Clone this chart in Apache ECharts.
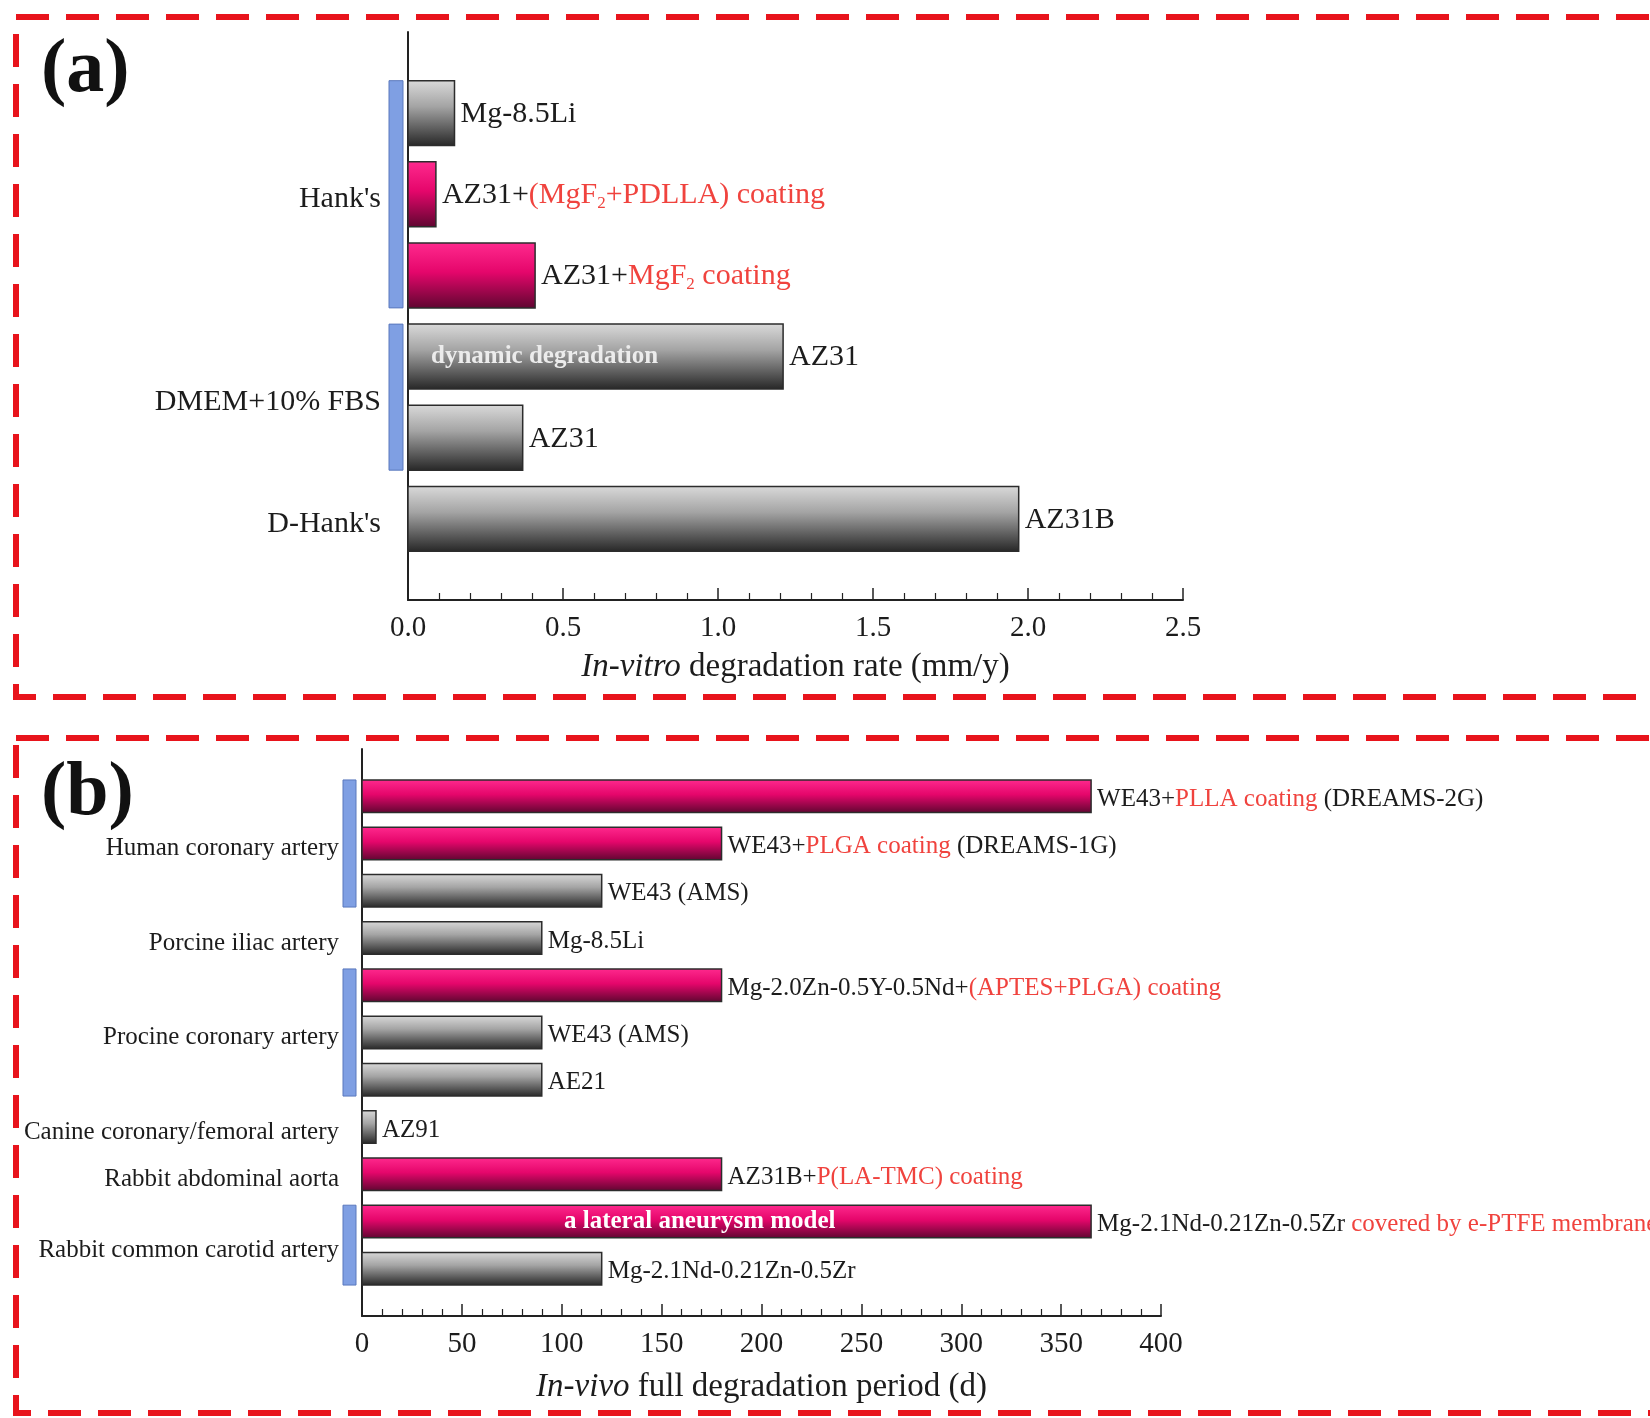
<!DOCTYPE html>
<html>
<head>
<meta charset="utf-8">
<script src="https://cdn.jsdelivr.net/npm/echarts@6/dist/echarts.min.js"></script>
<style>
  html, body { margin: 0; padding: 0; background: #fff; }
  #chart { width: 1650px; height: 1418px; }
</style>
</head>
<body>
<div id="chart"></div>
<script>
// ---------- (a) in-vitro degradation rate (mm/y) ----------
// label segments: k = black text, r = red (coating) text, s = red subscript
const vitroLabels = [
  [['Mg-8.5Li', 'k']],
  [['AZ31+', 'k'], ['(MgF', 'r'], ['2', 's'], ['+PDLLA) coating', 'r']],
  [['AZ31+', 'k'], ['MgF', 'r'], ['2', 's'], [' coating', 'r']],
  [['AZ31', 'k']],
  [['AZ31', 'k']],
  [['AZ31B', 'k']]
];
const vitroRates = [0.15, 0.09, 0.41, 1.21, 0.37, 1.97];
const vitroCoated = [false, true, true, false, false, false];
const vitroNotes = ['', '', '', 'dynamic degradation', '', ''];
const vitroMedia = ["Hank's", 'DMEM+10% FBS', "D-Hank's"];
const vitroMediaRows = [[1, 3], [4, 5], [6, 6]];
const vitroAxisMax = 2.5;
const vitroAxisStep = 0.5;
const vitroAxisName = ['In-vitro', ' degradation rate (mm/y)'];

// ---------- (b) in-vivo full degradation period (d) ----------
const vivoLabels = [
  [['WE43+', 'k'], ['PLLA coating', 'r'], [' (DREAMS-2G)', 'k']],
  [['WE43+', 'k'], ['PLGA coating', 'r'], [' (DREAMS-1G)', 'k']],
  [['WE43 (AMS)', 'k']],
  [['Mg-8.5Li', 'k']],
  [['Mg-2.0Zn-0.5Y-0.5Nd+', 'k'], ['(APTES+PLGA) coating', 'r']],
  [['WE43 (AMS)', 'k']],
  [['AE21', 'k']],
  [['AZ91', 'k']],
  [['AZ31B+', 'k'], ['P(LA-TMC) coating', 'r']],
  [['Mg-2.1Nd-0.21Zn-0.5Zr ', 'k'], ['covered by e-PTFE membrane', 'r']],
  [['Mg-2.1Nd-0.21Zn-0.5Zr', 'k']]
];
const vivoDays = [365, 180, 120, 90, 180, 90, 90, 7, 180, 365, 120];
const vivoCoated = [true, true, false, false, true, false, false, false, true, true, false];
const vivoNotes = ['', '', '', '', '', '', '', '', '', 'a lateral aneurysm model', ''];
const vivoSites = ['Human coronary artery', 'Porcine iliac artery', 'Procine coronary artery',
  'Canine coronary/femoral artery', 'Rabbit abdominal aorta', 'Rabbit common carotid artery'];
const vivoSiteRows = [[1, 3], [4, 4], [5, 7], [8, 8], [9, 9], [10, 11]];
const vivoAxisMax = 400;
const vivoAxisStep = 50;
const vivoAxisName = ['In-vivo', ' full degradation period (d)'];

// ---------- styling ----------
const SERIF = "'Liberation Serif', 'Times New Roman', serif";
const INK = '#1c1c1c';
const RED_TEXT = '#f0433e';
const FRAME_RED = '#e8141c';

function barFill(coated) {
  return coated
    ? new echarts.graphic.LinearGradient(0, 0, 0, 1, [
        { offset: 0, color: '#ff2a8e' },
        { offset: 0.45, color: '#e5066b' },
        { offset: 1, color: '#5e0630' }
      ])
    : new echarts.graphic.LinearGradient(0, 0, 0, 1, [
        { offset: 0, color: '#dadada' },
        { offset: 0.4, color: '#a4a4a4' },
        { offset: 1, color: '#262626' }
      ]);
}

function richString(segments) {
  return segments.map(s => '{' + s[1] + '|' + s[0] + '}').join('');
}

function richStyles(size, subSize) {
  const base = { fontFamily: SERIF, fontSize: size, lineHeight: size + 4 };
  return {
    k: Object.assign({ fill: INK }, base),
    r: Object.assign({ fill: RED_TEXT }, base),
    s: { fontFamily: SERIF, fontSize: subSize, lineHeight: 2, fill: RED_TEXT, verticalAlign: 'bottom' }
  };
}

function barSeries(gridIdx, values, labels, coated, notes, cfg) {
  return {
    type: 'custom',
    xAxisIndex: gridIdx,
    yAxisIndex: gridIdx,
    data: values.map((v, i) => [v, i + 1]),
    encode: { x: 0, y: 1 },
    clip: false,
    z: 3,
    renderItem: function (params, api) {
      const i = params.dataIndex;
      const row = api.value(1);
      const p0 = api.coord([0, row - cfg.half]);
      const p1 = api.coord([api.value(0), row + cfg.half]);
      const x = p0[0];
      const y = Math.min(p0[1], p1[1]);
      const w = p1[0] - p0[0];
      const h = Math.abs(p1[1] - p0[1]);
      const children = [
        {
          type: 'rect',
          shape: { x: x, y: y, width: w, height: h },
          style: { fill: barFill(coated[i]), stroke: '#2c2c2c', lineWidth: 1.5 }
        },
        {
          type: 'text',
          x: x + w + cfg.gap,
          y: y + h / 2 + cfg.labelShift,
          style: {
            text: richString(labels[i]),
            rich: cfg.rich,
            fontFamily: SERIF,
            fontSize: cfg.fontSize,
            fill: INK,
            align: 'left',
            verticalAlign: 'middle'
          }
        }
      ];
      if (notes[i]) {
        children.push({
          type: 'text',
          x: x + cfg.noteOffset,
          y: y + h / 2,
          style: {
            text: notes[i],
            fontFamily: SERIF,
            fontWeight: 'bold',
            fontSize: cfg.noteSize,
            fill: cfg.noteColor,
            align: 'left',
            verticalAlign: 'middle'
          }
        });
      }
      return { type: 'group', children: children };
    }
  };
}

function groupSeries(gridIdx, names, rows, cfg) {
  return {
    type: 'custom',
    xAxisIndex: gridIdx,
    yAxisIndex: gridIdx,
    data: rows.map(r => [0, r[0], r[1]]),
    encode: { x: 0, y: [1, 2] },
    clip: false,
    z: 2,
    renderItem: function (params, api) {
      const j = params.dataIndex;
      const first = api.value(1);
      const last = api.value(2);
      const mid = api.coord([0, (first + last) / 2]);
      const children = [{
        type: 'text',
        x: mid[0] - cfg.textGap,
        y: mid[1] + 5,
        style: {
          text: names[j],
          fontFamily: SERIF,
          fontSize: cfg.fontSize,
          fill: INK,
          align: 'right',
          verticalAlign: 'middle'
        }
      }];
      if (last > first) {
        const top = api.coord([0, first - cfg.half]);
        const bottom = api.coord([0, last + cfg.half]);
        children.push({
          type: 'rect',
          shape: { x: top[0] - cfg.bracketGap - cfg.bracketWidth, y: top[1],
                   width: cfg.bracketWidth, height: bottom[1] - top[1] },
          style: { fill: '#7f9fe3', stroke: '#5a78bd', lineWidth: 1 }
        });
      }
      return { type: 'group', children: children };
    }
  };
}

function valueAxis(gridIdx, max, step, nameParts, nameGap, labelFmt) {
  return {
    gridIndex: gridIdx,
    type: 'value',
    min: 0,
    max: max,
    interval: step,
    name: '{i|' + nameParts[0] + '}{n|' + nameParts[1] + '}',
    nameLocation: 'middle',
    nameGap: nameGap,
    nameTextStyle: {
      rich: {
        i: { fontFamily: SERIF, fontSize: 33, fontStyle: 'italic', color: INK },
        n: { fontFamily: SERIF, fontSize: 33, color: INK }
      }
    },
    axisLine: { show: true, onZero: false, lineStyle: { color: '#222', width: 2 } },
    axisTick: { show: true, inside: true, length: 12, lineStyle: { color: '#222', width: 1.5 } },
    minorTick: { show: true, splitNumber: 5, length: 7, lineStyle: { color: '#222', width: 1.2 } },
    axisLabel: { fontFamily: SERIF, fontSize: 29, color: INK, margin: 14, formatter: labelFmt },
    splitLine: { show: false }
  };
}

function rowAxis(gridIdx, rows) {
  return {
    gridIndex: gridIdx,
    type: 'value',
    inverse: true,
    min: 0,
    max: rows + 1,
    axisLine: { show: true, onZero: false, lineStyle: { color: '#222', width: 2 } },
    axisTick: { show: false },
    axisLabel: { show: false },
    splitLine: { show: false }
  };
}

const chart = echarts.init(document.getElementById('chart'), null, { renderer: 'canvas' });

chart.setOption({
  backgroundColor: '#ffffff',
  animation: false,
  textStyle: { fontFamily: SERIF },
  grid: [
    { left: 408, top: 32, width: 775, height: 568 },
    { left: 362, top: 749, width: 799, height: 567 }
  ],
  xAxis: [
    valueAxis(0, vitroAxisMax, vitroAxisStep, vitroAxisName, 51, v => v.toFixed(1)),
    valueAxis(1, vivoAxisMax, vivoAxisStep, vivoAxisName, 55, v => String(v))
  ],
  yAxis: [
    rowAxis(0, vitroRates.length),
    rowAxis(1, vivoDays.length)
  ],
  series: [
    barSeries(0, vitroRates, vitroLabels, vitroCoated, vitroNotes, {
      half: 0.4, gap: 6, fontSize: 30, rich: richStyles(30, 17), labelShift: 1,
      noteOffset: 23, noteSize: 25, noteColor: '#ececec'
    }),
    groupSeries(0, vitroMedia, vitroMediaRows, {
      half: 0.4, textGap: 27, fontSize: 30, bracketGap: 5, bracketWidth: 14
    }),
    barSeries(1, vivoDays, vivoLabels, vivoCoated, vivoNotes, {
      half: 0.345, gap: 6, fontSize: 25, rich: richStyles(25, 15), labelShift: 3,
      noteOffset: 202, noteSize: 25, noteColor: '#ffffff'
    }),
    groupSeries(1, vivoSites, vivoSiteRows, {
      half: 0.345, textGap: 23, fontSize: 25, bracketGap: 6, bracketWidth: 13
    })
  ],
  graphic: [
    {
      type: 'rect', z: 10, silent: true,
      shape: { x: 16, y: 17, width: 1720, height: 680 },
      style: { fill: 'none', stroke: FRAME_RED, lineWidth: 6, lineDash: [33, 17] }
    },
    {
      type: 'rect', z: 10, silent: true,
      shape: { x: 16, y: 738, width: 1720, height: 675 },
      style: { fill: 'none', stroke: FRAME_RED, lineWidth: 6, lineDash: [33, 17] }
    },
    {
      type: 'text', z: 10, silent: true, x: 41, y: 71,
      style: { text: '(a)', fontFamily: SERIF, fontWeight: 'bold', fontSize: 76,
               fill: '#111', align: 'left', verticalAlign: 'middle' }
    },
    {
      type: 'text', z: 10, silent: true, x: 41, y: 794,
      style: { text: '(b)', fontFamily: SERIF, fontWeight: 'bold', fontSize: 76,
               fill: '#111', align: 'left', verticalAlign: 'middle' }
    }
  ]
});
</script>
</body>
</html>
